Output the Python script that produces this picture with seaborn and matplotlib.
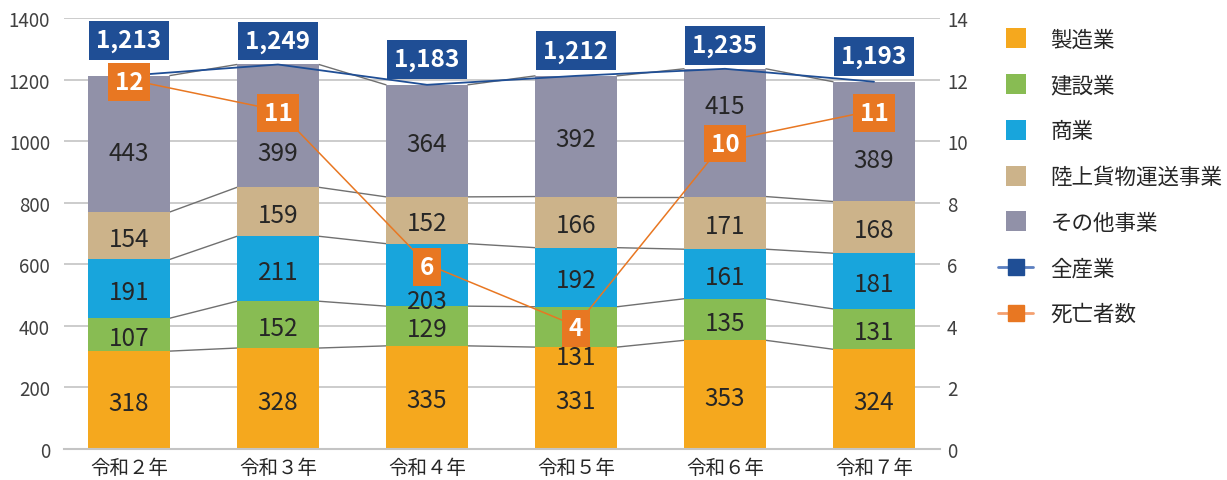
import numpy as np
import pandas as pd
import matplotlib
matplotlib.use("Agg")
import matplotlib.pyplot as plt
from matplotlib.lines import Line2D
import seaborn as sns

# ---------------- data ----------------
years = ["令和２年", "令和３年", "令和４年", "令和５年", "令和６年", "令和７年"]
series_names = ["製造業", "建設業", "商業", "陸上貨物運送事業", "その他事業"]
manufacturing = [318, 328, 335, 331, 353, 324]
construction = [107, 152, 129, 131, 135, 131]
commerce = [191, 211, 203, 192, 161, 181]
land_freight = [154, 159, 152, 166, 171, 168]
other = [443, 399, 364, 392, 415, 389]
all_industries = [1213, 1249, 1183, 1212, 1235, 1193]
deaths = [12, 11, 6, 4, 10, 11]
left_ticks = [0, 200, 400, 600, 800, 1000, 1200, 1400]
right_ticks = [0, 2, 4, 6, 8, 10, 12, 14]

# ---------------- style ----------------
seg_colors = ["#F5A81E", "#88BC53", "#18A5DC", "#CCB38A", "#9191A8"]
total_color = "#1F4E95"
total_line = "#1F4E95"
death_color = "#E87722"
text_color = "#262626"
grid_color = "#C4C4C4"
bar_w = 0.55
# label nudges (pixels, positive = up) for (series index, year index)
seg_nudge = {(4, 0): -6, (4, 1): -24, (4, 4): 30, (4, 5): -15, (2, 2): -23, (1, 3): -27}
total_nudge = [38, 26, 28, 28, 26, 28]

sns.set_theme(style="white")
plt.rcParams["font.family"] = ["Noto Sans CJK JP", "DejaVu Sans"]

fig = plt.figure(figsize=(12.27, 4.81), dpi=100)
ax = fig.add_axes([64 / 1227, 31 / 481, 876 / 1227, 431 / 481])

values = [manufacturing, construction, commerce, land_freight, other]
df = pd.DataFrame({name: vals for name, vals in zip(series_names, values)})
df["year"] = years
cum = np.zeros(len(years))
bottoms = []
for k, name in enumerate(series_names):
    bottoms.append(cum.copy())
    sns.barplot(x=df["year"], y=df[name], bottom=cum.copy(), color=seg_colors[k],
                width=bar_w, ax=ax, saturation=1, linewidth=0, zorder=2)
    cum = cum + np.array(values[k])
tops = [b + np.array(v) for b, v in zip(bottoms, values)]

xpos = np.arange(len(years))
# series lines between bars
for k in range(len(series_names)):
    for i in range(len(years) - 1):
        ax.plot([i + bar_w / 2, i + 1 - bar_w / 2], [tops[k][i], tops[k][i + 1]],
                color="#707070", lw=1.0, zorder=1.5)

# total line
sns.lineplot(x=xpos, y=all_industries, ax=ax, color=total_line, lw=1.3, zorder=3)

# segment labels
for k in range(len(series_names)):
    for i in range(len(years)):
        v = values[k][i]
        ax.annotate(f"{v}", xy=(i, bottoms[k][i] + v / 2), xytext=(0, seg_nudge.get((k, i), 0)),
                    textcoords="offset pixels", ha="center", va="center_baseline",
                    fontsize=17.5, color=text_color, zorder=4)

for i in range(len(years)):
    ax.annotate(f"{all_industries[i]:,}", xy=(i, all_industries[i]), xytext=(0, total_nudge[i]),
                textcoords="offset pixels", ha="center", va="center_baseline",
                fontsize=17.5, color="white", fontweight="bold", zorder=6,
                bbox=dict(boxstyle="square,pad=0.3", fc=total_color, ec="none"))

ax.set_xlim(-0.436, 5.443)
ax.set_ylim(0, 1400)
ax.set_yticks(left_ticks)
ax.set_xlabel("")
ax.set_ylabel("")
ax.grid(axis="y", color=grid_color, lw=1.2)
ax.set_axisbelow(True)
for s in ["left", "right", "top"]:
    ax.spines[s].set_visible(False)
ax.spines["bottom"].set_color(grid_color)
ax.spines["bottom"].set_linewidth(1.5)
ax.tick_params(axis="y", length=0, pad=10, labelsize=13.5, labelcolor="#404040")
ax.tick_params(axis="x", length=0, pad=6, labelsize=14, labelcolor=text_color)

# deaths on secondary axis
ax2 = ax.twinx()
sns.lineplot(x=xpos, y=deaths, ax=ax2, color=death_color, lw=1.1, zorder=3)
for i in range(len(years)):
    ax2.annotate(f"{deaths[i]}", xy=(i, deaths[i]), ha="center", va="center_baseline",
                 fontsize=17.5, color="white", fontweight="bold", zorder=6,
                 bbox=dict(boxstyle="square,pad=0.28", fc=death_color, ec="none"))
ax2.set_ylim(0, 14)
ax2.set_yticks(right_ticks)
ax2.set_ylabel("")
for s in ["left", "right", "top", "bottom"]:
    ax2.spines[s].set_visible(False)
ax2.tick_params(axis="y", length=0, pad=5, labelsize=13.5, labelcolor="#404040")
ax2.set_xlim(-0.436, 5.443)

# legend
handles = [Line2D([], [], marker="s", markersize=15, color=c, linestyle="None", markeredgewidth=0)
           for c in seg_colors]
handles.append(Line2D([], [], color="#5B7FC0", lw=2, marker="s", markersize=12,
                      markerfacecolor=total_color, markeredgecolor=total_color))
handles.append(Line2D([], [], color="#F4A070", lw=2, marker="s", markersize=12,
                      markerfacecolor=death_color, markeredgecolor=death_color))
labels = series_names + ["全産業", "死亡者数"]
fig.legend(handles, labels, loc="upper left", bbox_to_anchor=(998 / 1227, 1 - 30 / 481),
           frameon=False, fontsize=15.5, handlelength=1.63, handletextpad=0.8,
           labelspacing=1.1, borderpad=0, borderaxespad=0, labelcolor=text_color)

fig.savefig("out.png", dpi=100)
